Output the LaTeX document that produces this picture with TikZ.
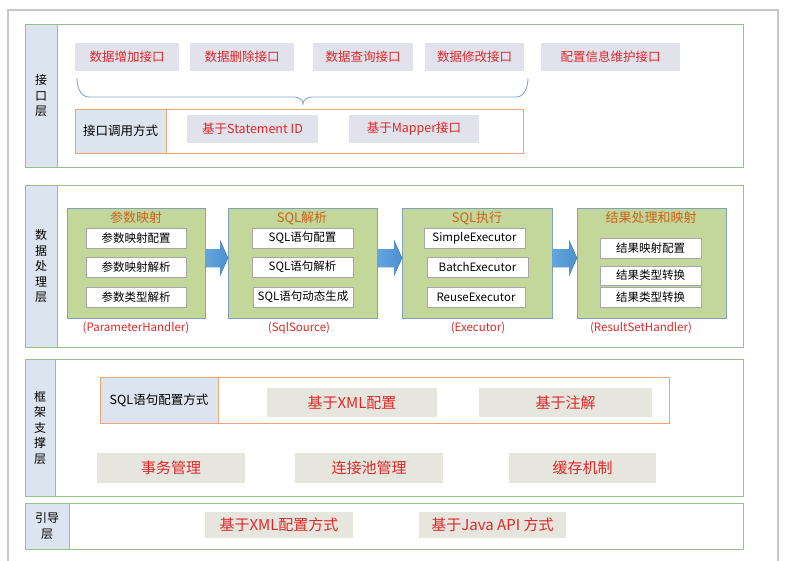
\documentclass[tikz,border=0pt]{standalone}
\usepackage{fontspec}
\setmainfont{Noto Sans CJK SC}
\usetikzlibrary{calc}
\definecolor{laygreen}{RGB}{150,192,140}
\definecolor{labfill}{RGB}{220,228,239}
\definecolor{ifill}{RGB}{225,226,236}
\definecolor{orangeline}{RGB}{240,165,120}
\definecolor{gfill}{RGB}{196,215,155}
\definecolor{gline}{RGB}{127,160,190}
\definecolor{gtitlec}{RGB}{200,100,30}
\definecolor{redtxt}{RGB}{222,40,40}
\definecolor{beige}{RGB}{230,230,222}
\definecolor{bracec}{RGB}{140,168,195}
\definecolor{arrowblue}{RGB}{74,144,208}
\definecolor{arrowlight}{RGB}{100,165,220}
\definecolor{pagec}{RGB}{200,200,200}
\newcommand\placebox[7]{\node[#6, anchor=north west, minimum width={#4-#2}, minimum height={#5-#3}] (#1) at (#2,#3) {#7};}
\newcommand\blockarrow[2]{\fill[blockfill] let \p1=(#1.east), \p2=(#2.west) in
  (\x1,\y1+14pt) -- (\x2-8pt,\y1+14pt) -- (\x2-8pt,\y1+23pt) -- (\x2,\y1+5pt) -- (\x2-8pt,\y1-13pt) -- (\x2-8pt,\y1-4pt) -- (\x1,\y1-4pt) -- cycle;}
\begin{document}
\begin{tikzpicture}[x=1pt,y=-1pt,
  every node/.style={inner sep=0pt, outer sep=0pt, align=center},
  layer/.style={draw=laygreen, line width=0.9pt, fill=white},
  labcol/.style={draw=laygreen, line width=0.9pt, fill=labfill, font=\fontsize{12}{15.5}\selectfont},
  ibox/.style={fill=ifill, text=redtxt, font=\fontsize{12.5}{14}\selectfont},
  orbox/.style={draw=orangeline, line width=0.8pt},
  orcell/.style={draw=orangeline, line width=0.8pt, fill=labfill, font=\fontsize{12.5}{14}\selectfont},
  gbox/.style={draw=gline, line width=0.8pt, fill=gfill},
  gtitlestyle/.style={text=gtitlec, font=\fontsize{13}{14}\selectfont},
  wbox/.style={draw=black!35, line width=0.6pt, fill=white, font=\fontsize{11.5}{13}\selectfont},
  captxt/.style={text=redtxt, font=\fontsize{11.5}{13}\selectfont},
  bbox/.style={fill=beige, text=redtxt, font=\fontsize{15}{17}\selectfont},
  blockfill/.style={left color=arrowlight, right color=arrowblue}
]
\useasboundingbox (0,0) rectangle (791,560);
\fill[white] (0,0) rectangle (791,560);
% page frame
\draw[pagec, line width=1.6pt] (8,570) -- (8,10) -- (778,10) -- (778,570);

% ---------- Layer 1 ----------
\placebox{L1}{25}{24}{743}{167}{layer}{}
\placebox{L1lab}{25}{24}{57}{167}{labcol}{接\\口\\层}
\placebox{t1}{75}{43}{179}{71}{ibox}{数据增加接口}
\placebox{t2}{190}{43}{294}{71}{ibox}{数据删除接口}
\placebox{t3}{313}{43}{413}{71}{ibox}{数据查询接口}
\placebox{t4}{425}{43}{524}{71}{ibox}{数据修改接口}
\placebox{t5}{541}{43}{680}{71}{ibox}{配置信息维护接口}
\draw[bracec, line width=0.9pt] (77,78) to[out=-90,in=180] (89,97) -- (294,97) to[out=0,in=90] (303,104) to[out=90,in=180] (312,97) -- (516,97) to[out=0,in=-90] (528,78);
\placebox{O1}{75}{109}{523}{153}{orbox}{}
\placebox{O1lab}{75}{109}{166}{153}{orcell}{接口调用方式}
\placebox{s1}{187}{115}{318}{143}{ibox}{基于Statement ID}
\placebox{s2}{349}{115}{479}{143}{ibox}{基于Mapper接口}

% ---------- Layer 2 ----------
\placebox{L2}{25}{185}{743}{347}{layer}{}
\placebox{L2lab}{25}{185}{57}{347}{labcol}{数\\据\\处\\理\\层}
\placebox{g1}{67}{208}{205}{318}{gbox}{}
\placebox{g2}{228}{208}{377}{318}{gbox}{}
\placebox{g3}{402}{208}{552}{318}{gbox}{}
\placebox{g4}{577}{208}{726}{318}{gbox}{}
\node[gtitlestyle] (g1t) at (136,218) {参数映射};
\node[gtitlestyle] (g2t) at (302,218) {SQL解析};
\node[gtitlestyle] (g3t) at (477,218) {SQL执行};
\node[gtitlestyle] (g4t) at (651,218) {结果处理和映射};
\placebox{w11}{86}{228}{186}{248}{wbox}{参数映射配置}
\placebox{w12}{86}{257}{186}{277}{wbox}{参数映射解析}
\placebox{w13}{86}{287}{186}{307}{wbox}{参数类型解析}
\placebox{w21}{252}{228}{353}{248}{wbox}{SQL语句配置}
\placebox{w22}{252}{257}{353}{277}{wbox}{SQL语句解析}
\placebox{w23}{253}{287}{353}{307}{wbox}{SQL语句动态生成}
\placebox{w31}{424}{228}{525}{248}{wbox}{SimpleExecutor}
\placebox{w32}{427}{257}{528}{277}{wbox}{BatchExecutor}
\placebox{w33}{427}{287}{525}{307}{wbox}{ReuseExecutor}
\placebox{w41}{600}{238}{701}{258}{wbox}{结果映射配置}
\placebox{w42}{600}{266}{701}{285}{wbox}{结果类型转换}
\placebox{w43}{600}{287}{701}{307}{wbox}{结果类型转换}
\node[captxt] (c1) at (136,328) {(ParameterHandler)};
\node[captxt] (c2) at (299,328) {(SqlSource)};
\node[captxt] (c3) at (478,328) {(Executor)};
\node[captxt] (c4) at (641,328) {(ResultSetHandler)};
\blockarrow{g1}{g2}
\blockarrow{g2}{g3}
\blockarrow{g3}{g4}

% ---------- Layer 3 ----------
\placebox{L3}{25}{359}{743}{496}{layer}{}
\placebox{L3lab}{25}{359}{55}{496}{labcol}{框\\架\\支\\撑\\层}
\placebox{O3}{100}{377}{669}{423}{orbox}{}
\placebox{O3lab}{100}{377}{218}{423}{orcell}{SQL语句配置方式}
\placebox{x1}{267}{388}{437}{417}{bbox}{基于XML配置}
\placebox{x2}{479}{388}{652}{417}{bbox}{基于注解}
\placebox{r1}{97}{453}{245}{483}{bbox}{事务管理}
\placebox{r2}{295}{453}{443}{483}{bbox}{连接池管理}
\placebox{r3}{509}{453}{656}{483}{bbox}{缓存机制}

% ---------- Layer 4 ----------
\placebox{L4}{25}{503}{743}{549}{layer}{}
\placebox{L4lab}{25}{503}{69}{549}{labcol}{引导\\层}
\placebox{b1}{205}{512}{353}{538}{bbox}{基于XML配置方式}
\placebox{b2}{419}{512}{566}{538}{bbox}{基于Java API 方式}
\end{tikzpicture}
\end{document}
